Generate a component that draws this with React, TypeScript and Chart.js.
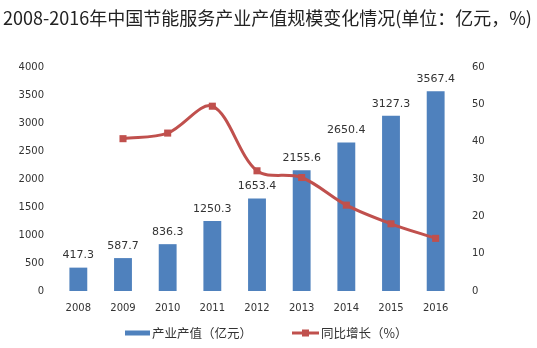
import React, { useEffect, useRef } from "react";
import { Chart, registerables } from "chart.js";

Chart.register(...registerables);

const years = ["2008", "2009", "2010", "2011", "2012", "2013", "2014", "2015", "2016"];
const outputValue = [417.3, 587.7, 836.3, 1250.3, 1653.4, 2155.6, 2650.4, 3127.3, 3567.4];
const growthRate = [null, 40.8, 42.3, 49.5, 32.2, 30.4, 23.0, 18.0, 14.1];
const leftMax = 4000;
const leftStep = 500;
const rightMax = 60;
const rightStep = 10;
const titleText = "2008-2016年中国节能服务产业产值规模变化情况(单位：亿元，%)";
const barLabel = "产业产值（亿元）";
const lineLabel = "同比增长（%）";

const BAR_COLOR = "#4F81BD";
const LINE_COLOR = "#C0504D";
const TEXT_COLOR = "#333333";
const TICK_FONT = { family: "'DejaVu Sans', sans-serif", size: 10 };
const CJK = "'Noto Sans CJK SC', sans-serif";

const titlePlugin = {
  id: "customTitle",
  afterDraw(chart: any) {
    const ctx = chart.ctx;
    ctx.save();
    ctx.fillStyle = "#222222";
    ctx.font = `18px ${CJK}`;
    ctx.textAlign = "left";
    ctx.textBaseline = "middle";
    ctx.fillText(titleText, 3, 18);
    ctx.restore();
  },
};

const dataLabelPlugin = {
  id: "barLabels",
  afterDatasetsDraw(chart: any) {
    const ctx = chart.ctx;
    const meta = chart.getDatasetMeta(0);
    ctx.save();
    ctx.fillStyle = TEXT_COLOR;
    ctx.font = "11px 'DejaVu Sans', sans-serif";
    ctx.textAlign = "center";
    ctx.textBaseline = "middle";
    meta.data.forEach((el: any, i: number) => {
      ctx.fillText(outputValue[i].toFixed(1), el.x, el.y - 12);
    });
    ctx.restore();
  },
};

const legendPlugin = {
  id: "customLegend",
  afterDraw(chart: any) {
    const ctx = chart.ctx;
    const y = 333;
    ctx.save();
    ctx.fillStyle = BAR_COLOR;
    ctx.fillRect(125, y - 2.5, 25, 5);
    ctx.fillStyle = TEXT_COLOR;
    ctx.font = `12.5px ${CJK}`;
    ctx.textAlign = "left";
    ctx.textBaseline = "middle";
    ctx.fillText(barLabel, 152, y);
    ctx.strokeStyle = LINE_COLOR;
    ctx.lineWidth = 3;
    ctx.beginPath();
    ctx.moveTo(292, y);
    ctx.lineTo(319, y);
    ctx.stroke();
    ctx.fillStyle = LINE_COLOR;
    ctx.fillRect(305.5 - 3.5, y - 3.5, 7, 7);
    ctx.fillStyle = TEXT_COLOR;
    ctx.fillText(lineLabel, 321, y);
    ctx.restore();
  },
};

export default function App() {
  const ref = useRef<HTMLCanvasElement | null>(null);

  useEffect(() => {
    if (!ref.current) return;
    const chart = new Chart(ref.current, {
      type: "bar",
      data: {
        labels: years,
        datasets: [
          {
            type: "bar",
            label: barLabel,
            data: outputValue,
            backgroundColor: BAR_COLOR,
            yAxisID: "y",
            barPercentage: 0.4,
            categoryPercentage: 1,
            order: 1,
          },
          {
            type: "line",
            label: lineLabel,
            data: growthRate as any,
            borderColor: LINE_COLOR,
            backgroundColor: LINE_COLOR,
            borderWidth: 3,
            pointStyle: "rect",
            pointRadius: 5,
            pointBorderWidth: 0,
            tension: 0.33,
            yAxisID: "y1",
            order: 0,
          } as any,
        ],
      },
      options: {
        responsive: false,
        animation: false,
        layout: { padding: { top: 67, left: 0, right: 0, bottom: 0 } },
        plugins: {
          legend: { display: false },
          title: { display: false },
          tooltip: { enabled: false },
        },
        scales: {
          x: {
            grid: { display: false },
            border: { display: false },
            ticks: { color: TEXT_COLOR, font: TICK_FONT, padding: 3, maxRotation: 0 },
            afterFit(scale: any) {
              scale.height = 57;
            },
          },
          y: {
            position: "left",
            min: 0,
            max: leftMax,
            grid: { display: false },
            border: { display: false },
            ticks: {
              stepSize: leftStep,
              color: TEXT_COLOR,
              font: TICK_FONT,
              padding: 4,
              callback: (v: any) => String(v),
            },
            afterFit(scale: any) {
              scale.width = 56;
            },
          },
          y1: {
            position: "right",
            min: 0,
            max: rightMax,
            grid: { display: false },
            border: { display: false },
            ticks: {
              stepSize: rightStep,
              color: TEXT_COLOR,
              font: TICK_FONT,
              padding: 6,
              callback: (v: any) => String(v),
            },
            afterFit(scale: any) {
              scale.width = 79;
            },
          },
        },
      } as any,
      plugins: [titlePlugin, dataLabelPlugin, legendPlugin],
    });
    return () => chart.destroy();
  }, []);

  return (
    <div style={{ position: "fixed", left: 0, top: 0, width: 537, height: 348, background: "#fff" }}>
      <canvas ref={ref} width={537} height={348} style={{ width: 537, height: 348 }} />
    </div>
  );
}
